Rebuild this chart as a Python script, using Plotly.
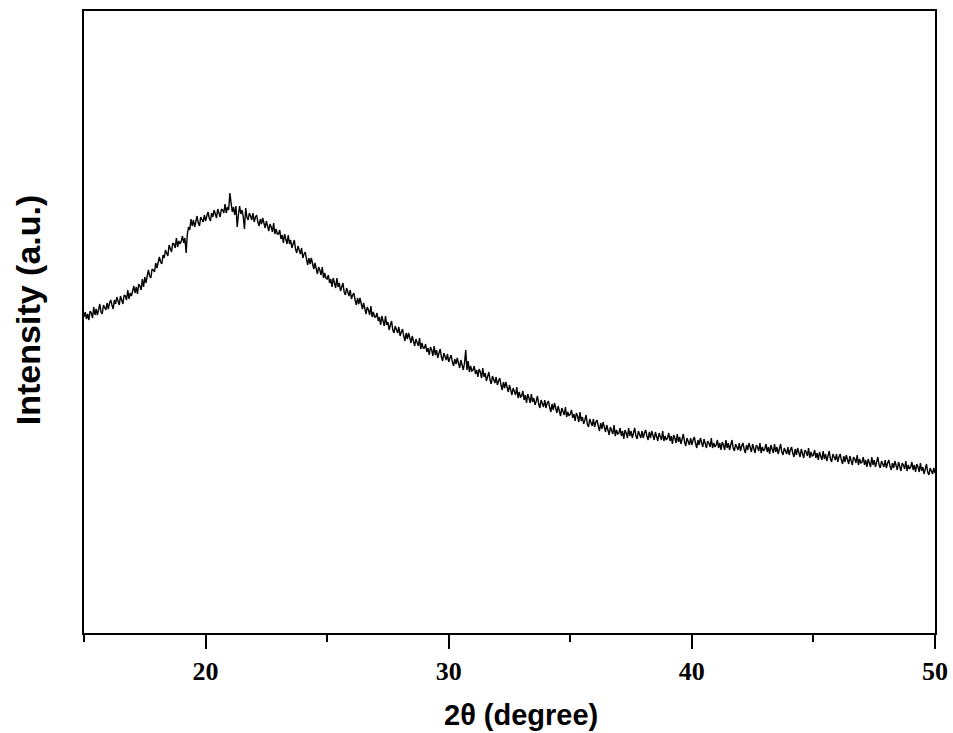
import plotly.graph_objects as go

# 2-theta start/step (degrees) and intensity readings (a.u.), one row per degree (20 readings each)
two_theta_start = 15.0
two_theta_step = 0.05

intensity_rows = [
    [316, 321, 314, 319, 313, 322, 320, 315, 326, 318, 324, 318, 323, 329, 321, 319, 328, 325, 323, 330],  # 15
    [324, 330, 333, 328, 324, 333, 329, 336, 332, 328, 337, 333, 329, 338, 337, 333, 343, 334, 340, 337],  # 16
    [341, 347, 340, 346, 339, 349, 347, 343, 354, 346, 356, 350, 357, 363, 357, 355, 364, 363, 361, 370],  # 17
    [365, 371, 376, 371, 369, 378, 375, 383, 380, 377, 388, 384, 381, 390, 389, 385, 395, 386, 392, 389],  # 18
    [392, 397, 390, 395, 380, 399, 406, 403, 414, 407, 413, 406, 412, 417, 410, 407, 416, 413, 411, 418],  # 19
    [412, 417, 421, 415, 412, 420, 416, 423, 419, 415, 424, 419, 416, 424, 423, 420, 429, 420, 426, 423],  # 20
    [440, 430, 421, 426, 418, 427, 406, 418, 427, 419, 423, 416, 404, 425, 416, 413, 420, 417, 413, 420],  # 21
    [411, 416, 418, 411, 407, 414, 409, 415, 410, 405, 412, 406, 402, 409, 406, 401, 410, 399, 404, 399],  # 22
    [399, 403, 394, 398, 390, 399, 395, 389, 398, 389, 393, 385, 389, 393, 384, 380, 387, 383, 379, 385],  # 23
    [375, 379, 381, 374, 368, 375, 369, 375, 369, 364, 370, 364, 359, 366, 363, 358, 366, 355, 360, 355],  # 24
    [354, 358, 350, 354, 346, 355, 351, 345, 355, 346, 350, 342, 346, 350, 341, 338, 345, 341, 337, 343],  # 25
    [334, 338, 340, 333, 328, 335, 329, 335, 329, 324, 330, 324, 319, 326, 323, 318, 327, 316, 321, 316],  # 26
    [316, 320, 312, 316, 308, 317, 313, 307, 317, 308, 311, 303, 308, 312, 303, 300, 307, 303, 300, 306],  # 27
    [297, 301, 304, 297, 292, 300, 294, 300, 295, 290, 297, 291, 287, 294, 291, 287, 295, 284, 290, 285],  # 28
    [285, 289, 281, 285, 278, 286, 283, 277, 287, 278, 283, 275, 280, 284, 276, 272, 280, 276, 273, 279],  # 29
    [271, 275, 278, 271, 267, 274, 269, 275, 270, 265, 273, 267, 263, 270, 283, 263, 272, 261, 267, 262],  # 30
    [263, 267, 259, 263, 256, 264, 261, 255, 265, 256, 260, 252, 257, 261, 253, 249, 257, 253, 250, 256],  # 31
    [248, 252, 255, 248, 243, 251, 245, 251, 246, 241, 248, 242, 238, 245, 242, 238, 246, 235, 241, 236],  # 32
    [237, 242, 233, 238, 230, 239, 235, 230, 239, 231, 235, 228, 232, 237, 229, 225, 233, 230, 226, 233],  # 33
    [225, 230, 232, 226, 221, 229, 223, 230, 224, 220, 227, 222, 217, 225, 222, 218, 226, 216, 221, 217],  # 34
    [219, 223, 215, 219, 212, 220, 217, 211, 221, 212, 216, 209, 213, 218, 209, 206, 214, 210, 207, 214],  # 35
    [206, 211, 213, 207, 202, 210, 204, 211, 205, 201, 208, 203, 198, 206, 203, 199, 208, 197, 203, 199],  # 36
    [200, 205, 197, 202, 194, 203, 200, 195, 205, 197, 202, 195, 200, 205, 197, 194, 202, 198, 195, 202],  # 37
    [195, 200, 203, 197, 193, 201, 195, 202, 197, 193, 201, 196, 192, 200, 197, 193, 202, 192, 197, 193],  # 38
    [195, 200, 192, 197, 189, 198, 195, 190, 199, 191, 196, 189, 194, 199, 191, 187, 195, 192, 188, 195],  # 39
    [188, 193, 196, 190, 185, 193, 188, 195, 190, 186, 194, 189, 185, 192, 190, 186, 195, 185, 190, 186],  # 40
    [188, 193, 185, 190, 183, 191, 188, 183, 193, 185, 190, 183, 188, 193, 185, 182, 189, 186, 183, 190],  # 41
    [182, 187, 190, 184, 180, 188, 183, 190, 185, 181, 189, 184, 180, 188, 186, 182, 190, 180, 186, 182],  # 42
    [184, 189, 181, 186, 179, 188, 185, 180, 189, 181, 186, 179, 184, 189, 181, 178, 185, 182, 179, 186],  # 43
    [178, 183, 186, 180, 176, 184, 178, 185, 180, 176, 184, 179, 175, 183, 181, 177, 185, 175, 181, 177],  # 44
    [178, 183, 175, 180, 173, 181, 178, 173, 182, 174, 179, 172, 177, 182, 174, 171, 179, 176, 173, 179],  # 45
    [171, 176, 179, 173, 169, 177, 171, 178, 173, 169, 177, 172, 168, 176, 174, 170, 178, 168, 174, 170],  # 46
    [171, 176, 168, 173, 166, 174, 171, 166, 176, 168, 173, 166, 171, 176, 168, 165, 172, 169, 166, 173],  # 47
    [165, 170, 173, 167, 163, 170, 165, 172, 167, 163, 171, 166, 162, 170, 168, 164, 172, 162, 168, 164],  # 48
    [166, 171, 163, 168, 161, 169, 166, 161, 170, 162, 166, 159, 164, 169, 161, 158, 165, 162, 159, 165],  # 49
    [160],                                                                                                 # 50
]

x_tick_values = [20, 30, 40, 50]
x_tick_labels = ["20", "30", "40", "50"]
x_minor_values = [15, 25, 35, 45]

x_title = "2θ (degree)"
y_title = "Intensity (a.u.)"

intensity = [v for row in intensity_rows for v in row]
two_theta = [round(two_theta_start + i * two_theta_step, 3) for i in range(len(intensity))]

fig = go.Figure()
fig.add_trace(go.Scatter(
    x=two_theta, y=intensity, mode="lines",
    line=dict(color="black", width=1.4),
    showlegend=False, hoverinfo="skip",
))

fig.update_layout(
    width=953, height=733,
    margin=dict(l=84, r=18, t=11, b=100, autoexpand=False),
    paper_bgcolor="white", plot_bgcolor="white",
)

fig.update_xaxes(
    range=[15, 50], automargin=False,
    showline=True, linecolor="black", linewidth=2, mirror=True,
    showgrid=False, zeroline=False,
    tickmode="array", tickvals=x_tick_values, ticktext=x_tick_labels,
    ticks="outside", ticklen=14, tickwidth=2, tickcolor="black",
    minor=dict(tickmode="array", tickvals=x_minor_values, ticks="outside",
               ticklen=7, tickwidth=2, tickcolor="black", showgrid=False),
    tickfont=dict(family="Liberation Serif", size=26, color="black", weight="bold"),
)

fig.update_yaxes(
    range=[0, 622], automargin=False,
    showline=True, linecolor="black", linewidth=2, mirror=True,
    showgrid=False, zeroline=False,
    showticklabels=False, ticks="",
)

fig.add_annotation(
    text=x_title, xref="paper", yref="paper", x=0.5135, y=0,
    xanchor="center", yanchor="middle", yshift=-82, showarrow=False,
    font=dict(family="Liberation Sans", size=29, color="black", weight="bold"),
)
fig.add_annotation(
    text=y_title, xref="paper", yref="paper", x=0, y=0.519,
    xanchor="center", yanchor="middle", xshift=-56, textangle=-90, showarrow=False,
    font=dict(family="Liberation Sans", size=34, color="black", weight="bold"),
)

fig.write_html(
    "out.html",
    config={"displayModeBar": False},
    post_script="document.body.style.margin='0px';document.body.style.overflow='hidden';",
)
